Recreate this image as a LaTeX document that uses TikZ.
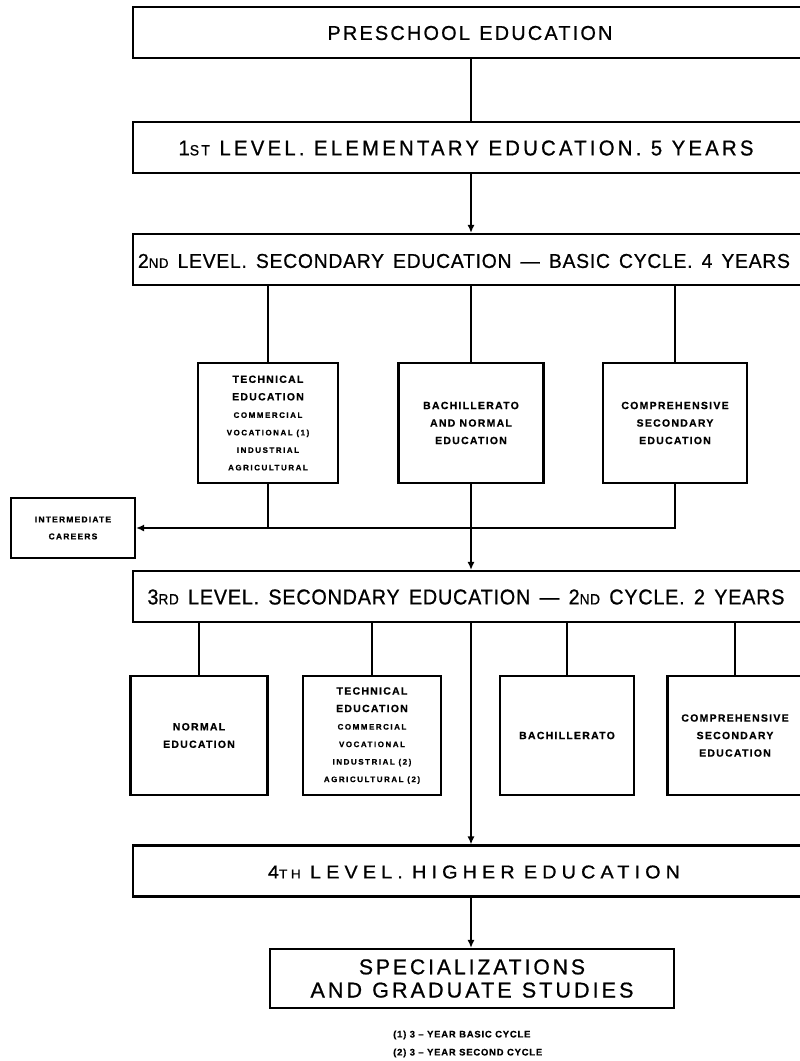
\documentclass[tikz,border=0pt]{standalone}
\usepackage{fontspec}
\usepackage{graphicx}
\usetikzlibrary{arrows.meta}
\setmainfont{Liberation Sans}

% heading text fitted to the width and cap height of the original lettering
\newcommand{\head}[4]{\resizebox{#1pt}{#2pt}{\fontsize{19.5}{20}\selectfont\addfontfeature{LetterSpace=#3,FakeBold=0.8}\spaceskip=.47em\relax#4}}
\newcommand{\sm}[1]{{\fontsize{13.5}{14}\selectfont #1}}
\newcommand{\ttl}{\fontsize{10.5}{17.5}\selectfont\addfontfeature{LetterSpace=12,FakeBold=0.8}}

\begin{document}
\begin{tikzpicture}[x=1pt,y=-1pt,
  level box/.style={draw,line width=2.2pt,minimum width=700pt,minimum height=51pt,inner sep=0pt},
  sub box/.style={draw,line width=2.2pt,minimum height=119pt,inner sep=0pt,align=center,
    font=\fontsize{8}{17.5}\selectfont\bfseries\addfontfeature{LetterSpace=19,FakeBold=0.8}},
  note/.style={anchor=west,inner sep=0pt,font=\fontsize{9.5}{18}\selectfont\bfseries\addfontfeature{LetterSpace=8,FakeBold=0.6}},
  link/.style={line width=1.4pt},
  arrow/.style={link,-{Latex[length=8pt,width=7pt]}}]

  \useasboundingbox (0,0) rectangle (800,1061);
  \clip (0,0) rectangle (800,1061);
  \coordinate (axis) at (471,0);

  % the four levels
  \node[level box] (pre) at (483,32.5) {};
  \node (preT) at (470,33) {\head{285}{14}{11}{PRESCHOOL EDUCATION}};
  \node[level box] (lvl1) at (483,147.5) {};
  \node (lvl1T) at (466,148) {\head{575}{15}{16}{1\sm{ST} LEVEL. ELEMENTARY EDUCATION. 5 YEARS}};
  \node[level box] (lvl2) at (483,259.5) {};
  \node (lvl2T) at (464,261) {\head{652}{14}{4}{2\sm{ND} LEVEL. SECONDARY EDUCATION — BASIC CYCLE. 4 YEARS}};
  \node[level box] (lvl3) at (483,596.5) {};
  \node (lvl3T) at (466,597) {\head{637}{15}{4}{3\sm{RD} LEVEL. SECONDARY EDUCATION — 2\sm{ND} CYCLE. 2 YEARS}};
  \node[level box] (lvl4) at (483,871) {};
  \node (lvl4T) at (474,872) {\head{412}{13}{26}{4\sm{TH} LEVEL. HIGHER EDUCATION}};

  % branches of the 2nd level
  \node[sub box,minimum width=140pt,minimum height=120pt] (tech1) at (268,423)
    {{\ttl TECHNICAL}\\{\ttl EDUCATION}\\COMMERCIAL\\VOCATIONAL (1)\\INDUSTRIAL\\AGRICULTURAL};
  \node[sub box,minimum width=145pt,minimum height=120pt] (bachnorm) at (471,423)
    {{\ttl BACHILLERATO}\\{\ttl AND NORMAL}\\{\ttl EDUCATION}};
  \node[sub box,minimum width=144pt,minimum height=120pt] (comp1) at (675,423)
    {{\ttl COMPREHENSIVE}\\{\ttl SECONDARY}\\{\ttl EDUCATION}};
  \node[sub box,minimum width=124pt,minimum height=60pt,
    font=\fontsize{8.5}{17}\selectfont\bfseries\addfontfeature{LetterSpace=14,FakeBold=0.8}] (inter) at (73,528)
    {INTERMEDIATE\\CAREERS};

  % branches of the 3rd level
  \node[sub box,minimum width=137pt] (normal) at (199,735.5)
    {{\ttl NORMAL}\\{\ttl EDUCATION}};
  \node[sub box,minimum width=138pt] (tech2) at (372,735.5)
    {{\ttl TECHNICAL}\\{\ttl EDUCATION}\\COMMERCIAL\\VOCATIONAL\\INDUSTRIAL (2)\\AGRICULTURAL (2)};
  \node[sub box,minimum width=134pt] (bach2) at (567,735.5)
    {{\ttl BACHILLERATO}};
  \node[sub box,minimum width=135pt] (comp2) at (735,735.5)
    {{\ttl COMPREHENSIVE}\\{\ttl SECONDARY}\\{\ttl EDUCATION}};

  \node[draw,line width=2.2pt,minimum width=404pt,minimum height=59pt,inner sep=0pt,align=center] (spec) at (472,978.5)
    {\head{226}{15}{14}{SPECIALIZATIONS}\\[7pt]\head{323}{15}{14}{AND GRADUATE STUDIES}};

  \node[note] (note1) at (393,1035) {(1) 3 – YEAR BASIC CYCLE};
  \node[note] (note2) at (393,1053) {(2) 3 – YEAR SECOND CYCLE};

  % connectors
  \draw[link] (pre.south -| axis) -- (lvl1.north -| axis);
  \draw[arrow] (lvl1.south -| axis) -- (lvl2.north -| axis);
  \foreach \b in {tech1,bachnorm,comp1}
    \draw[link] (lvl2.south -| \b) -- (\b.north);
  \draw[link] (tech1.south) -- (tech1.south |- inter.east);
  \draw[arrow] (comp1.south) |- (inter.east);
  \draw[arrow] (bachnorm.south -| axis) -- (lvl3.north -| axis);
  \foreach \b in {normal,tech2,bach2,comp2}
    \draw[link] (lvl3.south -| \b) -- (\b.north);
  \draw[arrow] (lvl3.south -| axis) -- (lvl4.north -| axis);
  \draw[arrow] (lvl4.south -| axis) -- (spec.north -| axis);
\end{tikzpicture}
\end{document}
